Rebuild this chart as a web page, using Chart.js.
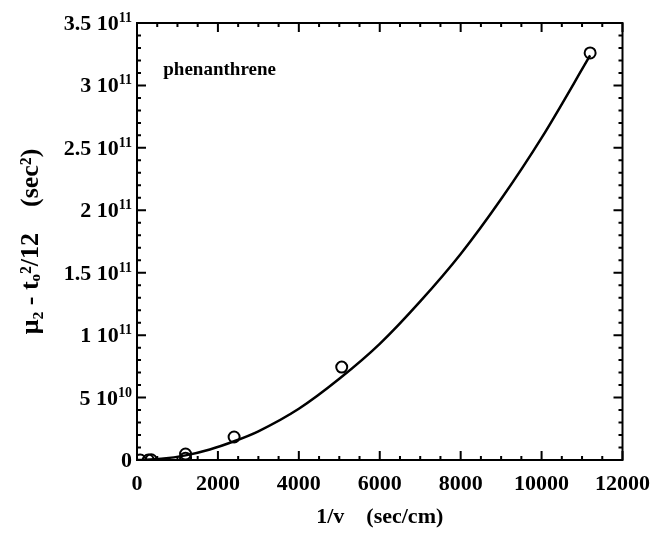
<!DOCTYPE html>
<html>
<head>
<meta charset="utf-8">
<script src="https://cdn.jsdelivr.net/npm/chart.js@4.4.0/dist/chart.umd.min.js"></script>
<style>
  html, body { margin: 0; padding: 0; background: #fff; }
  #wrap { width: 661px; height: 534px; }
</style>
</head>
<body>
<div id="wrap"><canvas id="myChart"></canvas></div>
<script>
// measured points (1/v in sec/cm, mu2 - t0^2/12 in sec^2)
const pointX = [80, 280, 350, 1200, 1200, 2400, 5060, 11200];
const pointY = [0, 0, 0.02e10, 0.48e10, 0.15e10, 1.84e10, 7.44e10, 3.26e11];

// fitted curve
const curveX = [0, 600, 1200, 1800, 2400, 3000, 4000, 5000, 6000, 7000, 8000, 9000, 10000, 11200];
const curveY = [0, 0.1e10, 0.37e10, 0.84e10, 1.5e10, 2.3e10, 4.1e10, 6.5e10, 9.3e10, 12.7e10, 16.5e10, 20.9e10, 25.8e10, 32.4e10];

const xTicks = [0, 2000, 4000, 6000, 8000, 10000, 12000];
const yTicks = [0, 5e10, 1e11, 1.5e11, 2e11, 2.5e11, 3e11, 3.5e11];
const yTickBase = ['0', '5 10', '1 10', '1.5 10', '2 10', '2.5 10', '3 10', '3.5 10'];
const yTickExp = ['', '10', '11', '11', '11', '11', '11', '11'];
const xMinorStep = 500;
const yMinorStep = 1e10;

const serif = "'Liberation Serif', 'Times New Roman', serif";

// frame, inward ticks on all four sides, y labels with exponents
const frameTicks = {
    id: 'frameTicks',
    afterDraw(chart) {
        const c = chart.ctx, a = chart.chartArea;
        const xs = chart.scales.x, ys = chart.scales.y;
        c.save();
        c.strokeStyle = '#000';
        c.lineWidth = 2;
        c.strokeRect(a.left, a.top, a.right - a.left, a.bottom - a.top);
        c.beginPath();
        for (let v = xs.min; v <= xs.max + 1e-6; v += xMinorStep) {
            const p = xs.getPixelForValue(v);
            const len = xTicks.includes(v) ? 9 : 4;
            c.moveTo(p, a.bottom); c.lineTo(p, a.bottom - len);
            c.moveTo(p, a.top); c.lineTo(p, a.top + len);
        }
        for (let i = 0; i <= Math.round((ys.max - ys.min) / yMinorStep); i++) {
            const v = ys.min + i * yMinorStep;
            const p = ys.getPixelForValue(v);
            const len = (i % 5 === 0) ? 9 : 4;
            c.moveTo(a.left, p); c.lineTo(a.left + len, p);
            c.moveTo(a.right, p); c.lineTo(a.right - len, p);
        }
        c.stroke();

        c.fillStyle = '#000';
        c.textBaseline = 'alphabetic';
        yTicks.forEach((v, i) => {
            const p = ys.getPixelForValue(v);
            const right = a.left - 5;
            c.font = "bold 14px " + serif;
            const ew = yTickExp[i] ? c.measureText(yTickExp[i]).width : 0;
            c.textAlign = 'right';
            if (ew) c.fillText(yTickExp[i], right, p - 1);
            c.font = "bold 22px " + serif;
            c.fillText(yTickBase[i], right - ew, p + 7);
        });

        c.textAlign = 'left';
        c.font = "bold 19px " + serif;
        c.fillText('phenanthrene', xs.getPixelForValue(650), ys.getPixelForValue(3.08e11));
        c.restore();
    }
};

const ctx = document.getElementById('myChart');
new Chart(ctx, {
    type: 'scatter',
    data: {
        datasets: [{
            label: 'fit',
            type: 'line',
            data: curveX.map((x, i) => ({ x: x, y: curveY[i] })),
            borderColor: '#000',
            borderWidth: 2.5,
            pointRadius: 0,
            cubicInterpolationMode: 'monotone',
            fill: false
        }, {
            label: 'data',
            data: pointX.map((x, i) => ({ x: x, y: pointY[i] })),
            borderColor: '#000',
            backgroundColor: 'rgba(0,0,0,0)',
            borderWidth: 2,
            pointRadius: 5.5,
            pointStyle: 'circle'
        }]
    },
    options: {
        responsive: true,
        maintainAspectRatio: false,
        animation: false,
        layout: { padding: { top: 23, right: 38, left: 0, bottom: 0 } },
        plugins: { legend: { display: false }, tooltip: { enabled: false } },
        scales: {
            x: {
                type: 'linear',
                min: 0,
                max: 12000,
                afterBuildTicks: (s) => { s.ticks = xTicks.map(v => ({ value: v })); },
                afterFit: (s) => { s.height = 74; },
                grid: { display: false, drawTicks: false },
                border: { display: false },
                ticks: {
                    color: '#000',
                    padding: 11,
                    maxRotation: 0,
                    font: { family: serif, size: 22, weight: 'bold' },
                    callback: (v) => String(v)
                },
                title: {
                    display: true,
                    text: '1/v    (sec/cm)',
                    color: '#000',
                    padding: { top: 0, bottom: 3 },
                    font: { family: serif, size: 22, weight: 'bold' }
                }
            },
            y: {
                type: 'linear',
                min: 0,
                max: 3.5e11,
                afterBuildTicks: (s) => { s.ticks = yTicks.map(v => ({ value: v })); },
                afterFit: (s) => { s.width = 137; },
                grid: { display: false, drawTicks: false },
                border: { display: false },
                ticks: { display: false },
                title: {
                    display: true,
                    text: '\u03bc\u2082 - t\u2092\u00b2/12    (sec\u00b2)',
                    color: '#000',
                    padding: { top: 16, bottom: 0 },
                    font: { family: serif, size: 26, weight: 'bold' }
                }
            }
        }
    },
    plugins: [frameTicks]
});
</script>
</body>
</html>
